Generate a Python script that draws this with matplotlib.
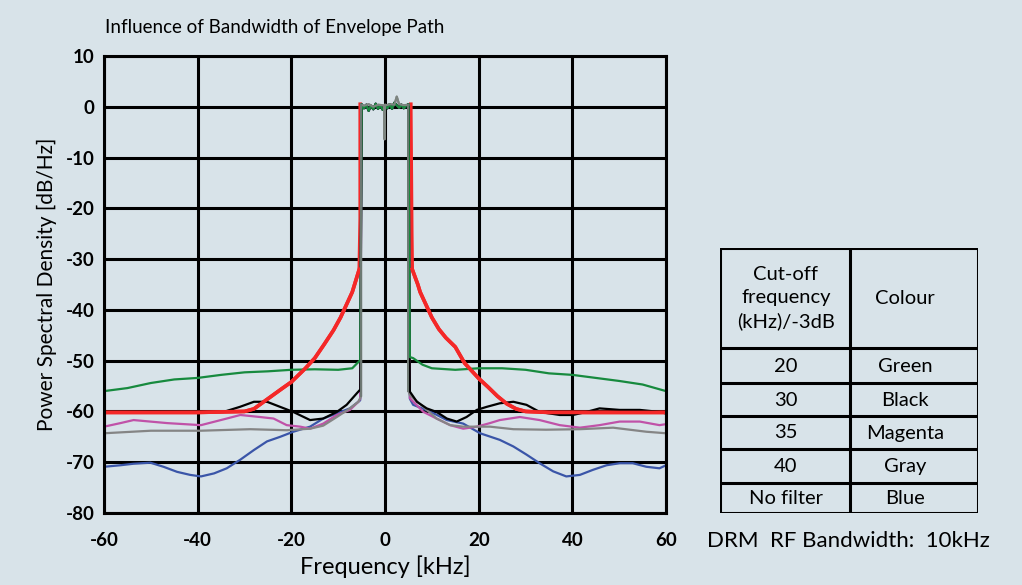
import numpy as np
import matplotlib
matplotlib.use('Agg')
import matplotlib.pyplot as plt

# passband (shared shape) in kHz / dB
pass_f = [-5.0, -4.5, -4.0, -3.5, -3.0, -2.5, -2.0, -1.5, -1.0, -0.5, 0.0, 0.5, 1.0, 1.5, 2.0, 2.5, 3.0, 3.5, 4.0, 4.5, 5.0]
pass_v = [0.5, -0.3, 0.4, -0.8, 0.2, -0.5, 0.6, -0.4, 0.3, -0.6, 0.2, -0.3, 0.5, -0.4, 0.8, 0.3, -0.2, 0.4, -0.3, 0.2, 0.5]

# outer skirts, left side then right side
green_f = [-60, -55, -50, -45, -40, -35, -30, -25, -20, -15, -10, -7, -5.3]
green_v = [-56, -55.4, -54.4, -53.7, -53.4, -52.8, -52.3, -52.1, -51.8, -51.7, -51.8, -51.5, -49.9]
green_fr = [5.3, 6, 8, 10, 15, 20, 25, 30, 35, 40, 45, 50, 55, 60]
green_vr = [-49.3, -49.5, -50.8, -51.5, -51.8, -51.5, -51.5, -51.8, -52.5, -52.8, -53.4, -54, -54.7, -56]

black_f = [-60, -50, -40, -34.5, -31, -28, -25.2, -22.4, -19.6, -16, -13.2, -10.3, -8.2, -6, -5.3]
black_v = [-60.1, -60.0, -60.1, -60.1, -59.1, -58.1, -58.1, -59.1, -60.1, -61.7, -61.4, -60.1, -58.7, -56.4, -55.7]
black_fr = [5.3, 6.8, 8.9, 11, 13.2, 15.3, 17.4, 19.6, 21.7, 24.5, 27.4, 30.2, 33, 37.3, 40.1, 43, 45.8, 50.1, 54.4, 58.6, 60]
black_vr = [-56.1, -58.1, -59.4, -60.1, -61.4, -62, -61.1, -59.7, -59.1, -58.4, -58.1, -58.7, -60.1, -60.7, -60.7, -60.1, -59.4, -59.7, -59.7, -60.1, -60.4]

magenta_f = [-60, -56.5, -53.7, -46.5, -39.3, -33.8, -30.9, -26.7, -23.8, -21, -18.1, -16, -13.2, -10.3, -7.5, -5.7, -5.3]
magenta_v = [-63, -62.3, -61.7, -62.3, -62.7, -61.4, -60.7, -61.1, -61.4, -62.7, -63, -63.4, -62.4, -60.7, -59.7, -58.1, -57.5]
magenta_fr = [5.3, 8.2, 11, 13.9, 16.7, 19.6, 22.4, 24.5, 28.8, 33, 37.3, 41.6, 45.8, 50.1, 54.4, 58.6, 60]
magenta_vr = [-57.4, -60.1, -61.4, -62.7, -63.4, -63, -62.3, -61.7, -61.1, -61.7, -62.7, -63.2, -62.7, -62, -62, -62.7, -62.5]

gray_f = [-60, -50, -39.3, -28.8, -21, -16, -13.2, -10.3, -7.5, -5.7, -5.1]
gray_v = [-64.3, -63.8, -63.8, -63.5, -63.7, -63.4, -62.8, -61.1, -59.4, -58.1, -57]
gray_fr = [5.0, 5.3, 8.2, 11, 13.9, 16.7, 22.4, 27.4, 34.4, 41.6, 48.7, 55.8, 60]
gray_vr = [-56, -56.8, -59.1, -61.4, -62.7, -63, -63, -63.5, -63.6, -63.5, -63.2, -64, -64.3]
gray_pass_f = [-5.1, -4.5, -3.5, -2.5, -1.5, -0.5, -0.2, -0.1, 0.0, 0.3, 1.0, 2.0, 2.5, 3.0, 4.0, 5.0]
gray_pass_v = [0.4, 0.2, 0.5, 0.0, 0.4, 0.3, 0.2, -6.4, 0.4, 0.3, 0.5, 0.4, 2.0, 0.5, 0.3, 0.4]

blue_f = [-60, -56.5, -53.7, -50.1, -47.3, -44.4, -41.6, -39.3, -36.5, -33.8, -30.9, -28, -25.2, -22.4, -19.6, -16, -13.2, -10.3, -7.5, -5.7, -5.3]
blue_v = [-70.9, -70.6, -70.3, -70.1, -70.9, -71.9, -72.5, -72.8, -72.2, -71.2, -69.5, -67.6, -65.9, -65, -64, -63, -61.4, -60.4, -59.4, -58.1, -57.8]
blue_fr = [5.3, 6, 9.6, 13.2, 16.7, 20.3, 24.5, 27.4, 30.2, 33, 35.9, 38.7, 41.6, 44.4, 47.3, 50.1, 52.9, 55.8, 58.6, 60]
blue_vr = [-57.5, -58.7, -60, -61.7, -62.4, -64.3, -65.6, -66.9, -68.5, -70.2, -71.8, -72.8, -72.5, -71.5, -70.6, -70.2, -70.2, -70.9, -71.2, -70.6]

# red: left skirt up to the passband edge, right skirt from the passband edge
red_f = [-60, -50, -40, -30, -28, -25, -22, -20, -17, -15, -13, -11, -9.5, -8, -7, -6, -5.5, -5.3, -5.3]
red_v = [-60.2, -60.2, -60.2, -60.0, -59.5, -57.5, -55.5, -54.2, -51.5, -49.5, -46.8, -44, -41.5, -38.5, -36.5, -33.5, -32, -22, 0.5]
red_fr = [5.5, 5.5, 5.7, 5.8, 7, 7.5, 9, 10, 11.5, 13, 15, 17, 18, 20, 22, 24, 26, 28, 30, 35, 40, 50, 60]
red_vr = [0.5, -1, -25, -32, -35, -36.5, -39.5, -41.5, -43.8, -45.5, -47.3, -50.5, -51.5, -53.5, -55.2, -57, -58.5, -59.5, -60, -60.2, -60.2, -60.2, -60.2]

table_rows = [['Cut-off\nfrequency\n(kHz)/-3dB', 'Colour'],
              ['20', 'Green'], ['30', 'Black'], ['35', 'Magenta'], ['40', 'Gray'], ['No filter', 'Blue']]

bg = '#d8e3e9'
font = ['Lato', 'DejaVu Sans']
plt.rcParams['font.family'] = font
plt.rcParams['axes.unicode_minus'] = False


def full(lf, lv, rf, rv, pf=pass_f, pv=pass_v):
  f = list(lf) + list(pf) + list(rf)
  v = list(lv) + list(pv) + list(rv)
  return np.array(f), np.array(v)


fig = plt.figure(figsize=(10.22, 5.85), dpi=100, facecolor=bg)
ax = fig.add_axes([0.1018, 0.1231, 0.5499, 0.7812])
ax.set_facecolor(bg)

ax.plot(red_f, red_v, color='#f42828', lw=2.6)
ax.plot(red_fr, red_vr, color='#f42828', lw=2.6)
f, v = full(blue_f, blue_v, blue_fr, blue_vr)
ax.plot(f, v, color='#3a55a8', lw=1.6)
f, v = full(magenta_f, magenta_v, magenta_fr, magenta_vr)
ax.plot(f, v, color='#c052a8', lw=1.6)
f, v = full(gray_f, gray_v, gray_fr, gray_vr, gray_pass_f, gray_pass_v)
ax.plot(f, v, color='#858585', lw=1.6)
f, v = full(black_f, black_v, black_fr, black_vr)
ax.plot(f, v, color='#000000', lw=1.6)
f, v = full(green_f, green_v, green_fr, green_vr)
ax.plot(f, v, color='#178a3e', lw=1.6)
# red skirts drawn again over the other curves (outside the passband)
ax.plot(red_f[:-2], red_v[:-2], color='#f42828', lw=2.6)
ax.plot(red_fr[3:], red_vr[3:], color='#f42828', lw=2.6)
# gray passband drawn on top
ax.plot(gray_pass_f, gray_pass_v, color='#7d8580', lw=1.5)
ax.plot([gray_pass_f[0], gray_pass_f[0]], [gray_v[-1], gray_pass_v[0]], color='#6f7a75', lw=1.4)
ax.plot([gray_pass_f[-1], gray_pass_f[-1]], [gray_vr[0], gray_pass_v[-1]], color='#6f7a75', lw=1.4)

ax.set_xlim(-60, 60)
ax.set_ylim(-80, 10)
ax.set_xticks(np.arange(-60, 61, 20))
ax.set_yticks(np.arange(-80, 11, 10))
ax.grid(True, color='black', lw=2.2)
ax.set_axisbelow(True)
for s in ax.spines.values():
  s.set_linewidth(2.2)
ax.tick_params(length=0, labelsize=13.5)
ax.tick_params(axis='x', pad=14)
ax.tick_params(axis='y', pad=7)
for lab in ax.get_xticklabels() + ax.get_yticklabels():
  lab.set_fontweight('bold')
ax.set_xlabel('Frequency [kHz]', fontsize=17, labelpad=4)
ax.set_ylabel('Power Spectral Density [dB/Hz]', fontsize=15, labelpad=6)
fig.text(0.103, 0.953, 'Influence of Bandwidth of Envelope Path', fontsize=13.5, va='center', ha='left')

# table on the right
tab = fig.add_axes([720 / 1022, 1 - 513 / 585, 258 / 1022, 265 / 585])
tab.set_xlim(720, 978)
tab.set_ylim(513, 248)
tab.axis('off')
hlines = [248, 348, 383, 416, 449, 483, 513]
for y in hlines:
  tab.plot([720, 978], [y, y], color='black', lw=2.2, solid_capstyle='projecting')
for x in [720, 850, 978]:
  tab.plot([x, x], [248, 513], color='black', lw=2.2, solid_capstyle='projecting')
for i, row in enumerate(table_rows):
  yc = (hlines[i] + hlines[i + 1]) / 2
  if i == 0:
    tab.text(786, yc, row[0], ha='center', va='center', fontsize=14.5, linespacing=1.45)
  else:
    tab.text(786, yc - 1, row[0], ha='center', va='center_baseline', fontsize=14.5)
  tab.text(905, yc - 1, row[1], ha='center', va='center_baseline', fontsize=14.5)

fig.text(707 / 1022, 1 - 541 / 585, 'DRM  RF Bandwidth:  10kHz', fontsize=16, va='center', ha='left')

plt.savefig('out.png', dpi=100, facecolor=bg)
